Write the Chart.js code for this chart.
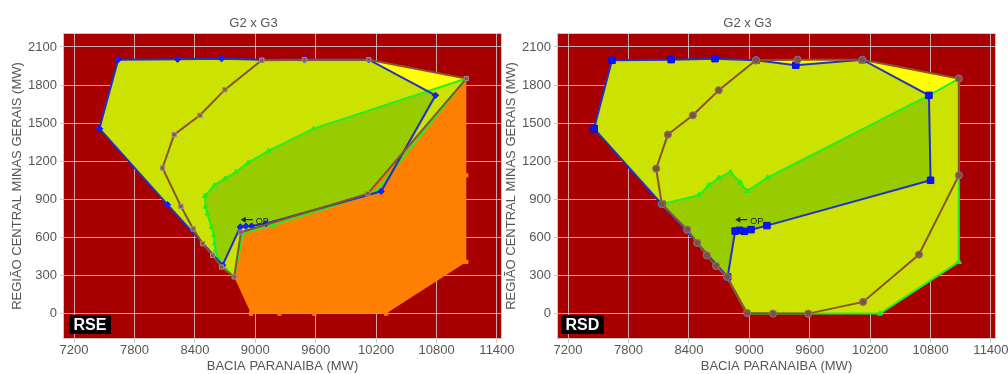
<!DOCTYPE html>
<html>
<head>
<meta charset="utf-8">
<script src="https://cdn.jsdelivr.net/npm/chart.js@4.4.1/dist/chart.umd.min.js"></script>
<style>
  html, body { margin: 0; padding: 0; background: #fff; overflow: hidden; }
  #page { position: relative; width: 1008px; height: 374px; overflow: hidden; background: #fff; }
  canvas { position: absolute; top: 0; }
  #rse { left: 0; }
  #rsd { left: 494px; }
</style>
</head>
<body>
<div id="page">
  <canvas id="rse" width="530" height="374"></canvas>
  <canvas id="rsd" width="530" height="374"></canvas>
</div>
<script>
// ---- Axis ticks -------------------------------------------------------
const xTicks = [7200, 7800, 8400, 9000, 9600, 10200, 10800, 11400];
const yTicks = [0, 300, 600, 900, 1200, 1500, 1800, 2100];

// ---- RSE: region vertices (MW) ---------------------------------------
// brown boundary
const rseBrownX = [9063, 8698, 8450, 8194, 8078, 8261, 8383, 8476, 8576, 8665, 8790, 8857, 10117, 11095, 10127, 9488, 9063];
const rseBrownY = [1995, 1764, 1562, 1410, 1147, 845, 667, 551, 459, 367, 289, 640, 945, 1851, 2000, 2000, 1995];
// blue boundary
const rseBlueX = [7452, 7638, 8228, 8665, 9063, 9488, 10127, 10790, 10250, 9106, 8963, 8907, 8851, 8675, 8128, 7452];
const rseBlueY = [1457, 2000, 2003, 2008, 2000, 2000, 2000, 1719, 963, 709, 690, 688, 683, 381, 858, 1457];
// green boundary
const rseGreenX = [8500, 8592, 8698, 8808, 8930, 9129, 9580, 11095, 10190, 9170, 8880, 8790, 8675, 8630, 8603, 8596, 8589, 8565, 8523, 8506, 8500];
const rseGreenY = [925, 1011, 1063, 1116, 1189, 1281, 1457, 1851, 955, 695, 635, 289, 381, 440, 498, 551, 617, 682, 787, 840, 925];
// blue ∩ green
const rseOverlapX = [8500, 8592, 8698, 8808, 8930, 9129, 9580, 10714, 10790, 10250, 9106, 8963, 8907, 8851, 8675, 8630, 8603, 8596, 8589, 8565, 8523, 8506, 8500];
const rseOverlapY = [925, 1011, 1063, 1116, 1189, 1281, 1457, 1751, 1719, 963, 709, 690, 688, 683, 381, 440, 498, 551, 617, 682, 787, 840, 925];
// orange region
const rseOrangeX = [8790, 8957, 9239, 9587, 10300, 11095, 11095, 11095, 10117, 8857, 8790];
const rseOrangeY = [289, 0, 0, 0, 0, 407, 1089, 1851, 945, 640, 289];
// operating point
const rseOP = [8855, 740];

// ---- RSD: region vertices (MW) ---------------------------------------
const rsdBrownX = [9066, 8696, 8439, 8191, 8075, 8131, 8383, 8482, 8578, 8670, 8779, 8977, 9235, 9585, 10130, 10685, 11081, 11081, 10123, 9479, 9066];
const rsdBrownY = [1995, 1759, 1562, 1410, 1142, 861, 661, 557, 459, 375, 289, 5, 0, 0, 92, 465, 1089, 1851, 2000, 2000, 1995];
const rsdBlueX = [7458, 7636, 8224, 8660, 9066, 9462, 10123, 10784, 10800, 9175, 9017, 8950, 8904, 8859, 8785, 8131, 7458];
const rsdBlueY = [1457, 1995, 2000, 2008, 1995, 1956, 2000, 1719, 1050, 693, 661, 648, 656, 650, 289, 861, 1457];
const rsdGreenX = [8131, 8498, 8597, 8696, 8812, 8911, 8977, 9181, 10784, 11081, 11081, 10298, 9585, 9235, 8977, 8779, 8670, 8578, 8482, 8383, 8131];
const rsdGreenY = [861, 932, 1011, 1068, 1115, 1032, 965, 1071, 1719, 1851, 407, 0, 0, 0, 0, 289, 375, 459, 557, 661, 861];
const rsdOverlapX = [8131, 8498, 8597, 8696, 8812, 8911, 8977, 9181, 10784, 10800, 9175, 9017, 8950, 8904, 8859, 8785, 8670, 8578, 8482, 8383, 8131];
const rsdOverlapY = [861, 932, 1011, 1068, 1115, 1032, 965, 1071, 1719, 1050, 693, 661, 648, 656, 650, 289, 375, 459, 557, 661, 861];
const rsdOP = [8861, 740];

// ---- Styling ----------------------------------------------------------
const FONT = '"Liberation Sans", Arial, Helvetica, sans-serif';
const TEXT = '#555';
const COLORS = {
  plot: '#a80000',
  grid: 'rgba(205,200,200,0.85)',
  frame: '#c8c8c8',
  yellow: '#ffff00',
  lime: '#cce200',
  olive: '#99cc00',
  orange: '#ff8000',
  blue: '#2030c8',
  green: '#22ee22',
  brown: '#86552e'
};

const pts = (xs, ys) => xs.map((x, i) => ({ x, y: ys[i] }));

function area(xs, ys, color, order) {
  return {
    data: pts(xs, ys), fill: 'shape', backgroundColor: color,
    borderWidth: 0, pointRadius: 0, order, tension: 0
  };
}

function outline(xs, ys, color, marker, order) {
  return {
    data: pts(xs, ys), fill: false, borderColor: color, borderWidth: 2,
    pointStyle: marker.style, pointRadius: marker.radius,
    pointBackgroundColor: marker.fill, pointBorderColor: marker.stroke,
    pointBorderWidth: 1, order, tension: 0
  };
}

// Plot background, frame, region tag and operating-point arrow
const plotDecor = {
  id: 'plotDecor',
  beforeDraw(chart, args, o) {
    const { ctx, chartArea: a } = chart;
    ctx.save();
    ctx.fillStyle = COLORS.plot;
    ctx.fillRect(a.left, a.top, a.right - a.left, a.bottom - a.top);
    ctx.restore();
  },
  afterDraw(chart, args, o) {
    const { ctx, chartArea: a, scales: { x, y } } = chart;
    ctx.save();
    ctx.strokeStyle = COLORS.frame;
    ctx.lineWidth = 1;
    ctx.strokeRect(a.left + 0.5, a.top + 0.5, a.right - a.left - 1, a.bottom - a.top - 1);

    ctx.font = 'bold 16px ' + FONT;
    const tw = ctx.measureText(o.tag).width;
    const bx = a.left + o.tagInset, bh = 19, by = a.bottom - 5 - bh, bw = tw + 9;
    ctx.fillStyle = '#000';
    ctx.fillRect(bx, by, bw, bh);
    ctx.fillStyle = '#fff';
    ctx.textAlign = 'left';
    ctx.textBaseline = 'middle';
    ctx.fillText(o.tag, bx + 4.5, by + bh / 2 + 1);

    const px = x.getPixelForValue(o.op[0]);
    const py = y.getPixelForValue(o.op[1]);
    ctx.strokeStyle = '#222';
    ctx.fillStyle = '#222';
    ctx.lineWidth = 1.2;
    ctx.beginPath();
    ctx.moveTo(px + 12, py);
    ctx.lineTo(px + 3, py);
    ctx.stroke();
    ctx.beginPath();
    ctx.moveTo(px, py);
    ctx.lineTo(px + 5, py - 3);
    ctx.lineTo(px + 5, py + 3);
    ctx.closePath();
    ctx.fill();
    ctx.font = '9px ' + FONT;
    ctx.fillText('OP', px + 15, py + 1.5);
    ctx.restore();
  }
};

function buildOptions(tag, op, tagInset) {
  const tickFont = { family: FONT, size: 13 };
  return {
    animation: false,
    responsive: false,
    events: [],
    layout: { padding: { left: 5, right: 28, top: 0, bottom: 0 } },
    plugins: {
      legend: { display: false },
      tooltip: { enabled: false },
      title: {
        display: true, text: 'G2 x G3', color: TEXT,
        font: { family: FONT, size: 13, weight: 'normal' },
        padding: { top: 15.5, bottom: 1.9 }
      },
      plotDecor: { tag, op, tagInset }
    },
    scales: {
      x: {
        type: 'linear', min: 7090, max: 11450,
        afterFit: s => { s.height = 35; },
        afterBuildTicks: s => { s.ticks = xTicks.map(v => ({ value: v })); },
        ticks: { color: TEXT, font: tickFont, padding: 0, maxRotation: 0, autoSkip: false, callback: v => String(v) },
        grid: { color: COLORS.grid, tickColor: '#cfcfcf', tickLength: 4 },
        border: { display: false },
        title: { display: true, text: 'BACIA PARANAIBA (MW)', color: TEXT, font: tickFont, padding: { top: 0, bottom: 0 } }
      },
      y: {
        type: 'linear', min: -200, max: 2210,
        afterFit: s => { s.width = 58; },
        afterBuildTicks: s => { s.ticks = yTicks.map(v => ({ value: v })); },
        ticks: { color: TEXT, font: tickFont, padding: 3, autoSkip: false, callback: v => String(v) },
        grid: { color: COLORS.grid, tickColor: '#cfcfcf', tickLength: 3 },
        border: { display: false },
        title: { display: true, text: 'REGIÃO CENTRAL MINAS GERAIS (MW)', color: TEXT, font: tickFont, padding: { top: 5, bottom: 0 } }
      }
    }
  };
}

// ---- RSE chart --------------------------------------------------------
new Chart(document.getElementById('rse'), {
  type: 'line',
  data: {
    datasets: [
      outline(rseBrownX, rseBrownY, COLORS.brown, { style: 'rect', radius: 3, fill: '#8a5a3c', stroke: '#a08898' }, 1),
      outline(rseBlueX, rseBlueY, COLORS.blue, { style: 'rectRot', radius: 3.2, fill: '#1020ff', stroke: '#1020ff' }, 2),
      outline(rseGreenX, rseGreenY, COLORS.green, { style: 'triangle', radius: 2.6, fill: COLORS.green, stroke: COLORS.green }, 3),
      Object.assign(area(rseOrangeX, rseOrangeY, COLORS.orange, 5),
        { pointRadius: 3, pointStyle: 'rect', pointBackgroundColor: COLORS.orange, pointBorderColor: COLORS.orange }),
      area(rseOverlapX, rseOverlapY, COLORS.olive, 6),
      area(rseGreenX, rseGreenY, COLORS.lime, 7),
      area(rseBlueX, rseBlueY, COLORS.lime, 8),
      area(rseBrownX, rseBrownY, COLORS.yellow, 9)
    ]
  },
  options: buildOptions('RSE', rseOP, 6),
  plugins: [plotDecor]
});

// ---- RSD chart --------------------------------------------------------
new Chart(document.getElementById('rsd'), {
  type: 'line',
  data: {
    datasets: [
      outline(rsdBrownX, rsdBrownY, COLORS.brown, { style: 'circle', radius: 3.6, fill: '#7d5440', stroke: '#8c7480' }, 1),
      outline(rsdBlueX, rsdBlueY, COLORS.blue, { style: 'rect', radius: 4.6, fill: '#0a14ff', stroke: '#0a10d8' }, 2),
      outline(rsdGreenX, rsdGreenY, COLORS.green, { style: 'triangle', radius: 3, fill: COLORS.green, stroke: COLORS.green }, 3),
      area(rsdOverlapX, rsdOverlapY, COLORS.olive, 6),
      area(rsdGreenX, rsdGreenY, COLORS.lime, 7),
      area(rsdBlueX, rsdBlueY, COLORS.lime, 8),
      area(rsdBrownX, rsdBrownY, COLORS.yellow, 9)
    ]
  },
  options: buildOptions('RSD', rsdOP, 4),
  plugins: [plotDecor]
});
</script>
</body>
</html>
